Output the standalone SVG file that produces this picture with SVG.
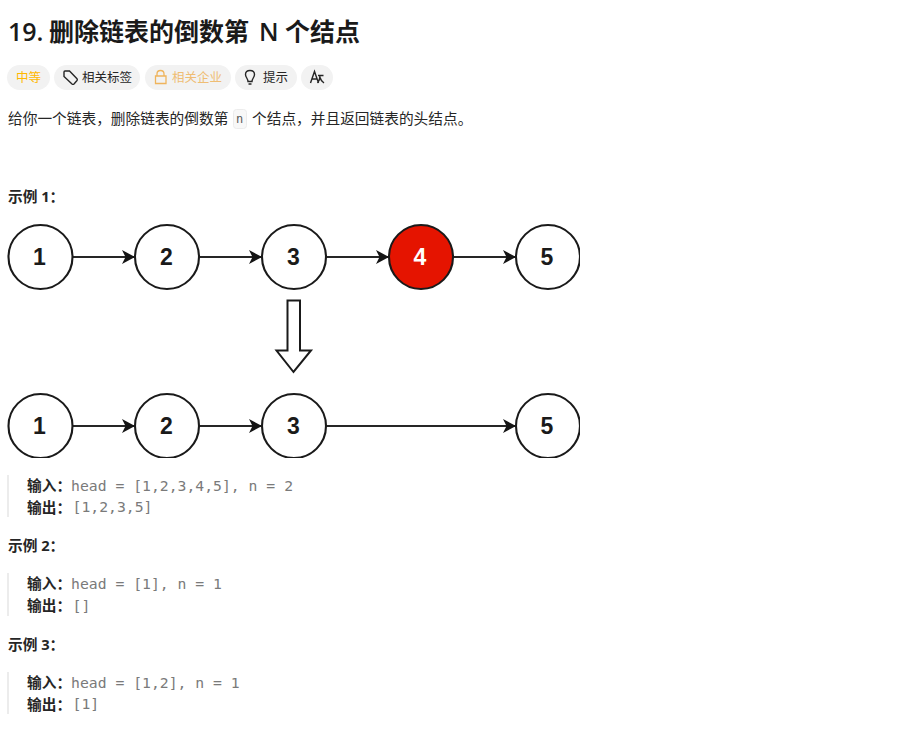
<svg xmlns="http://www.w3.org/2000/svg" width="903" height="743" viewBox="0 0 903 743">
<defs>
<marker id="ah" markerUnits="userSpaceOnUse" markerWidth="15" markerHeight="14" refX="13" refY="7" orient="auto"><path d="M0 0L13 7L0 14L3.500 7Z" fill="#141414"/></marker>
<clipPath id="fig"><rect x="0" y="215" width="580" height="243"/></clipPath>
</defs>
<style>
text{font-family:"Open Sans","Noto Sans CJK SC",sans-serif}
.title{font-size:25px;font-weight:600;fill:#1a1a1a}
.pill{fill:#f2f2f2}
.tag{font-size:12.500px;fill:#262626}
.p{font-size:14.700px;fill:#262626}
.h{font-size:14.700px;font-weight:700;fill:#262626}
.m{font-family:"DejaVu Sans Mono","Liberation Mono",monospace;font-size:14.750px;fill:#7a7a7a}
.bar{fill:#ececec}
.c{fill:#fff;stroke:#1a1a1a;stroke-width:2.100}
.n{font-family:"Liberation Sans",Arial,sans-serif;font-size:23px;font-weight:700;fill:#1a1a1a;text-anchor:middle}
.e{stroke:#262626;stroke-width:2.200;fill:none;marker-end:url(#ah)}
.ic{fill:none;stroke:#262626;stroke-width:1.400}
</style>
<rect width="903" height="743" fill="#fff"/>
<g id="title" class="title-group">
<text class="title" x="8" y="40.500">19.</text>
<text class="title" x="49" y="40.500">删除链表的倒数第</text>
<text class="title" x="259" y="40.500">N</text>
<text class="title" x="285" y="40.500">个结点</text>
</g>

<g id="tags">
<rect class="pill" x="7" y="65" width="43" height="25" rx="12.500"/>
<text class="tag" x="16" y="82" style="fill:#ffb800">中等</text>
<rect class="pill" x="54" y="65" width="86" height="25" rx="12.500"/>
<path class="ic" d="M64 72V76.500L72 84Q73 84.800 74 84L77 80.500Q77.700 79.500 77 78.700L69.500 71H65Q64 71 64 72Z"/>
<text class="tag" x="82" y="82">相关标签</text>
<rect class="pill" x="145" y="65" width="86" height="25" rx="12.500"/>
<path d="M157 76V74Q157 70.500 160.500 70.500Q164 70.500 164 74V76M155.500 76H166V83.500H155.500Z" fill="none" stroke="#efb45c" stroke-width="1.300"/>
<text class="tag" x="172" y="82" style="fill:#efbd74">相关企业</text>
<rect class="pill" x="235" y="65" width="62" height="25" rx="12.500"/>
<path class="ic" d="M248 81.500C248 78.500 245.500 77.500 245.500 74.500Q245.500 70.500 250 70.500Q254.500 70.500 254.500 74.500C254.500 77.500 252 78.500 252 81.500ZM248.500 84H251.500"/>
<text class="tag" x="263" y="82">提示</text>
<rect class="pill" x="301" y="65" width="32" height="25" rx="12.500"/>
<path class="ic" d="M310.500 83L314.500 71.500L318.500 83M312 79H317M318 75.500H323.500M320 75.500Q320 80 317.500 83M320 77.500Q321 81 324 83"/>
</g>

<text class="p" x="8" y="123.500">给你一个链表，删除链表的倒数第</text>
<rect x="233.500" y="109.500" width="13" height="19" rx="3" fill="#f8f8f8" stroke="#ececec"/>
<text x="236" y="123" style="font-family:'DejaVu Sans Mono',monospace;font-size:12px;fill:#5c5c5c">n</text>
<text class="p" x="252" y="123.500">个结点，并且返回链表的头结点。</text>

<text class="h" x="8" y="201.500">示例 1：</text>

<g clip-path="url(#fig)">
<g id="connectors">
<line class="e" x1="72.500" y1="257" x2="135" y2="257"/>
<line class="e" x1="199" y1="257" x2="262" y2="257"/>
<line class="e" x1="326" y1="257" x2="389" y2="257"/>
<line class="e" x1="453" y1="257" x2="516" y2="257"/>
<line class="e" x1="72.500" y1="426" x2="135" y2="426"/>
<line class="e" x1="199" y1="426" x2="262" y2="426"/>
<line class="e" x1="326" y1="426" x2="516" y2="426"/>
</g>
<g id="n1"><circle class="c" cx="40.500" cy="257" r="32"/><text class="n" x="39.500" y="265">1</text></g>
<g id="n2"><circle class="c" cx="167" cy="257" r="32"/><text class="n" x="166.500" y="265">2</text></g>
<g id="n3"><circle class="c" cx="294" cy="257" r="32"/><text class="n" x="293.500" y="265">3</text></g>
<g id="n4"><circle class="c" cx="421" cy="257" r="32" style="fill:#e51400"/><text class="n" x="420" y="265" style="fill:#fff">4</text></g>
<g id="n5"><circle class="c" cx="548" cy="257" r="32"/><text class="n" x="547" y="265">5</text></g>
<g id="m1"><circle class="c" cx="40.500" cy="426" r="32"/><text class="n" x="39.500" y="434">1</text></g>
<g id="m2"><circle class="c" cx="167" cy="426" r="32"/><text class="n" x="166.500" y="434">2</text></g>
<g id="m3"><circle class="c" cx="294" cy="426" r="32"/><text class="n" x="293.500" y="434">3</text></g>
<g id="m5"><circle class="c" cx="548" cy="426" r="32"/><text class="n" x="547" y="434">5</text></g>
<g id="down"><path d="M287.500 300.500H300V350.500H311L293.500 372L276.500 350.500H287.500Z" fill="#fff" stroke="#1a1a1a" stroke-width="2"/></g>
</g>

<rect class="bar" x="7" y="475" width="2" height="42"/>
<text class="h" x="27" y="490.500">输入：</text><text class="m" x="71" y="491">head = [1,2,3,4,5], n = 2</text>
<text class="h" x="27" y="512.500">输出：</text><text class="m" x="72.500" y="512">[1,2,3,5]</text>

<text class="h" x="8" y="550.500">示例 2：</text>
<rect class="bar" x="7" y="573" width="2" height="43"/>
<text class="h" x="27" y="588.500">输入：</text><text class="m" x="71" y="589">head = [1], n = 1</text>
<text class="h" x="27" y="610.500">输出：</text><text class="m" x="72.500" y="611">[]</text>

<text class="h" x="8" y="649.500">示例 3：</text>
<rect class="bar" x="7" y="672" width="2" height="42"/>
<text class="h" x="27" y="687.500">输入：</text><text class="m" x="71" y="688">head = [1,2], n = 1</text>
<text class="h" x="27" y="709.500">输出：</text><text class="m" x="72.500" y="709">[1]</text>
</svg>
